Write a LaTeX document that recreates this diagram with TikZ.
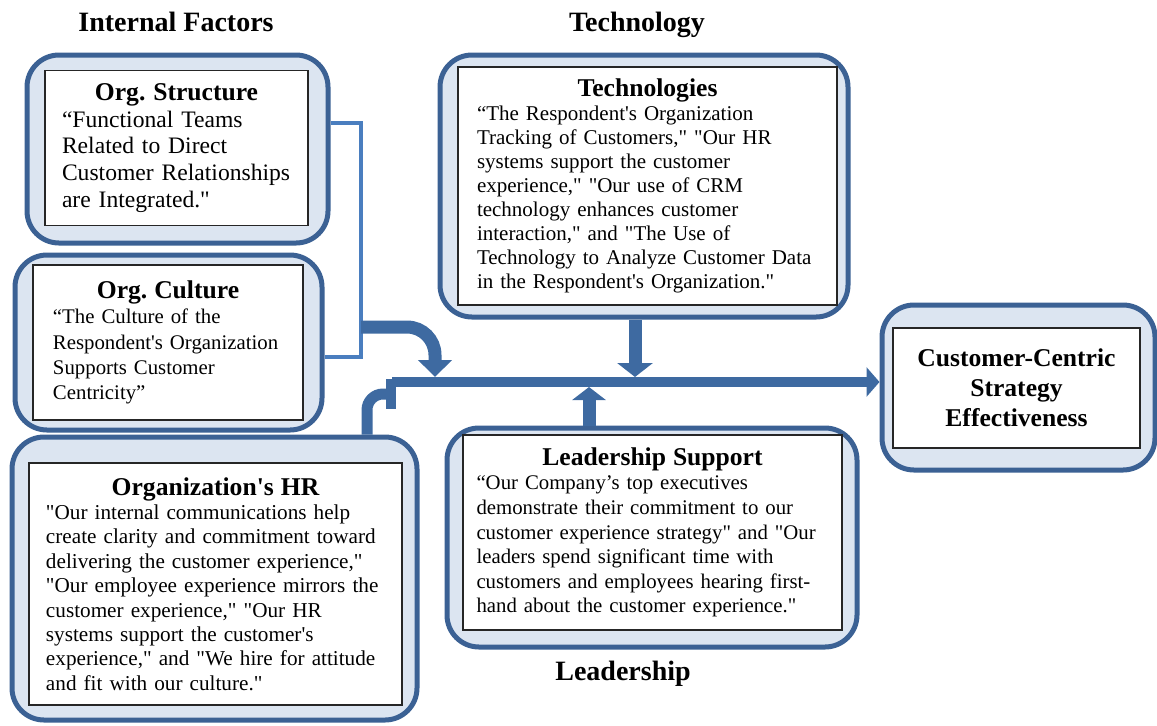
\documentclass[tikz,border=0pt]{standalone}
\usepackage{fontspec}
\setmainfont{Liberation Serif}
\newfontfamily\cardfont{Liberation Serif}
\usetikzlibrary{arrows.meta}

\definecolor{framefill}{RGB}{220,229,241}
\definecolor{frameline}{RGB}{59,97,148}
\definecolor{pipe}{RGB}{62,106,161}
\definecolor{bracket}{RGB}{74,126,191}

\newcommand{\cardhead}[1]{{\centering\fontsize{12.8}{15}\bfseries #1\par}}

\begin{document}
\frenchspacing
\begin{tikzpicture}[x=0.5pt, y=-0.5pt,
        frame/.style={draw=frameline, fill=framefill, line width=2.5pt, rounded corners=16pt, inner sep=0pt},
        card/.style={draw=black!85, fill=white, line width=0.7pt, inner sep=0pt, align=left},
        title/.style={font=\fontsize{14}{16}\selectfont\bfseries, anchor=base},
        flow/.style={draw=pipe, line width=6.5pt, rounded corners=11pt},
        link/.style={draw=bracket, line width=2pt}]
            \useasboundingbox (0,0) rectangle (1157,725);

            \node[title] (internal)  at (176,31)  {Internal Factors};
            \node[title] (techtitle) at (637,31)  {Technology};
            \node[title] (leadtitle) at (623,680) {Leadership};

            \node[frame, minimum width=150.5pt, minimum height=94pt]   (structframe)  at (177.5,149)   {};
            \node[frame, minimum width=153.5pt, minimum height=87.5pt] (cultureframe) at (168.5,342.5) {};
            \node[frame, minimum width=202.5pt, minimum height=141.5pt](hrframe)      at (214.5,578.5) {};
            \node[frame, minimum width=204pt,   minimum height=131pt]  (techframe)    at (644,186)     {};
            \node[frame, minimum width=205pt,   minimum height=109.5pt](leadframe)    at (652,537.5)   {};
            \node[frame, minimum width=136.5pt, minimum height=82.5pt] (ccframe)      at (1018.5,387.5){};

            \node[card, minimum width=131.5pt, minimum height=77.5pt, text width=114.5pt,
                  font=\cardfont\fontsize{11.8}{13.3}\selectfont] (struct) at (176.5,148)
                {\cardhead{Org. Structure}“Functional Teams\\Related to Direct\\Customer Relationships\\are Integrated."};
            \node[card, minimum width=135pt, minimum height=77.5pt, text width=115pt,
                  font=\cardfont\fontsize{10.4}{12.7}\selectfont] (culture) at (168,342.5)
                {\cardhead{Org. Culture}“The Culture of the\\Respondent's Organization\\Supports Customer\\Centricity”};
            \node[card, minimum width=186.5pt, minimum height=121pt, text width=169.5pt,
                  font=\cardfont\fontsize{10.6}{12.2}\selectfont] (hr) at (215.5,584)
                {\cardhead{Organization's HR}"Our internal communications help\\create clarity and commitment toward\\delivering the customer experience,"\\"Our employee experience mirrors the\\customer experience," "Our HR\\systems support the customer's\\experience," and "We hire for attitude\\and fit with our culture."};
            \node[card, minimum width=189.5pt, minimum height=119pt, text width=170.5pt,
                  font=\cardfont\fontsize{10.5}{12}\selectfont] (tech) at (647.5,186)
                {\cardhead{Technologies}“The Respondent's Organization\\Tracking of Customers," "Our HR\\systems support the customer\\experience," "Our use of CRM\\technology enhances customer\\interaction," and "The Use of\\Technology to Analyze Customer Data\\in the Respondent's Organization."};
            \node[card, minimum width=189.5pt, minimum height=97.5pt, text width=176pt,
                  font=\cardfont\fontsize{10.4}{12.3}\selectfont] (lead) at (652.5,532.5)
                {\cardhead{Leadership Support}“Our Company’s top executives\\demonstrate their commitment to our\\customer experience strategy" and "Our\\leaders spend significant time with\\customers and employees hearing first-\\hand about the customer experience."};
            \node[card, align=center, minimum width=123.5pt, minimum height=60pt,
                  font=\cardfont\fontsize{12.8}{15}\selectfont\bfseries] (cc) at (1016.5,388)
                {Customer-Centric\\Strategy\\Effectiveness};

            \coordinate (brktop)   at (361,123);
            \coordinate (brkbot)   at (361,357);
            \coordinate (hub)      at (392,382);
            \coordinate (techdrop) at (635,382);
            \coordinate (leadrise) at (589,382);
            \coordinate (culdrop)  at (435,382);
            \coordinate (hrjoin)   at (396,394);

            \draw[link] (structframe.east |- brktop) -- (brktop) -- (brkbot) -- (cultureframe.east |- brkbot);

            \draw[flow, rounded corners=14pt, -{Triangle[width=16.5pt,length=8.5pt]}, shorten >=2.5pt] (brktop |- 0,327) -| (culdrop);
            \draw[flow, line width=5.5pt, rounded corners=8pt, -{Rectangle[width=15pt,length=5pt]}] (367,0 |- hrframe.north) |- (hrjoin);
            \draw[flow, line width=5pt, -{Triangle[width=14.5pt,length=6.5pt]}] (hub) -- (hub -| ccframe.west);
            \draw[flow, -{Triangle[width=17.5pt,length=7pt]}, shorten >=2.5pt] (techdrop |- techframe.south) -- (techdrop);
            \draw[flow, -{Triangle[width=16.5pt,length=6.5pt]}, shorten >=2.5pt] (leadrise |- leadframe.north) -- (leadrise);
        \end{tikzpicture}
\end{document}
